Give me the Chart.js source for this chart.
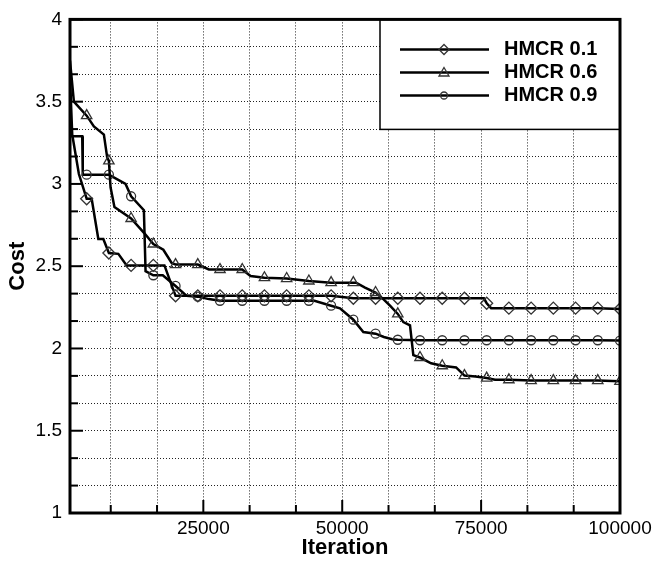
<!DOCTYPE html>
<html>
<head>
  <meta charset="utf-8">
  <title>Cost vs Iteration</title>
  <script src="https://cdn.jsdelivr.net/npm/chart.js@4.4.0/dist/chart.umd.min.js"></script>
  <style>
    body { margin: 0; background: #fff; }
  </style>
</head>
<body>
  <canvas id="costChart" width="657" height="562"></canvas>

  <script>
    // values
    const seriesLabels = ['HMCR 0.1', 'HMCR 0.6', 'HMCR 0.9'];
    const markerStyles = ['rectRot', 'triangle', 'circle'];

    const hmcr01Iter = [1000, 1400, 2600, 4000, 4900, 6100, 7000, 8000, 9700, 11200, 12000, 16000, 18000, 20000,
      24000, 28000, 32000, 36000, 40000, 44000, 48000, 52000, 56000, 60000, 64000, 68000, 72000, 75500, 76000,
      76800, 80000, 84000, 88000, 92000, 96000, 100000];
    const hmcr01Cost = [3.65, 3.30, 3.06, 2.91, 2.91, 2.665, 2.665, 2.58, 2.575, 2.505, 2.505, 2.505, 2.505, 2.32,
      2.32, 2.32, 2.32, 2.32, 2.32, 2.32, 2.32, 2.305, 2.305, 2.305, 2.305, 2.305, 2.305, 2.305, 2.275,
      2.245, 2.245, 2.245, 2.245, 2.245, 2.245, 2.24];

    const hmcr06Iter = [1000, 1700, 4000, 5300, 7100, 7700, 8000, 8300, 9000, 12000, 14400, 16000, 17800, 19300,
      20000, 24000, 26000, 28000, 32000, 33500, 36000, 40000, 44000, 48000, 52000, 52500, 54100, 56000, 57400,
      58600, 60000, 61000, 62200, 62800, 64000, 66000, 68000, 70500, 72000, 74000, 76000, 77500, 80000, 84000,
      88000, 92000, 96000, 100000];
    const hmcr06Cost = [3.75, 3.50, 3.415, 3.35, 3.30, 3.16, 3.14, 2.98, 2.86, 2.79, 2.70, 2.635, 2.60, 2.52,
      2.51, 2.51, 2.48, 2.48, 2.48, 2.44, 2.43, 2.425, 2.41, 2.40, 2.40, 2.40, 2.37, 2.34, 2.30,
      2.26, 2.21, 2.16, 2.14, 1.96, 1.945, 1.91, 1.895, 1.885, 1.835, 1.83, 1.82, 1.81, 1.81, 1.805,
      1.805, 1.805, 1.805, 1.80];

    const hmcr09Iter = [1000, 1200, 3200, 3300, 4000, 8000, 8300, 11000, 12000, 14300, 14600, 16000, 17700, 20000,
      22000, 24000, 26000, 28000, 32000, 36000, 40000, 44000, 45000, 48000, 49600, 52000, 53800, 56000, 57500,
      59000, 60000, 64000, 68000, 72000, 76000, 80000, 84000, 88000, 92000, 96000, 100000];
    const hmcr09Cost = [3.55, 3.29, 3.29, 3.056, 3.056, 3.056, 3.05, 3.00, 2.925, 2.84, 2.47, 2.445, 2.445, 2.38,
      2.32, 2.315, 2.30, 2.29, 2.29, 2.29, 2.29, 2.29, 2.29, 2.26, 2.244, 2.175, 2.10, 2.09, 2.07,
      2.056, 2.053, 2.05, 2.05, 2.05, 2.05, 2.05, 2.05, 2.05, 2.05, 2.05, 2.048];

    const xTickLabels = [25000, 50000, 75000, 100000];
    const yTickLabels = [1, 1.5, 2, 2.5, 3, 3.5, 4];
    const xMin = 1000, xMax = 100000, yMin = 1, yMax = 4;
    const markerEvery = 4000;   // a symbol is drawn every 4000 iterations
    const minorPerMajor = 3;

    function toPoints(xs, ys) {
      return xs.map((x, i) => ({ x: x, y: ys[i] }));
    }

    function gridValues(labels, start) {
      // majors plus minor divisions between them
      var step = labels[1] - labels[0];
      var out = [];
      var n = Math.round((labels[labels.length - 1] - start) / step * minorPerMajor);
      for (var i = 0; i <= n; i++) {
        var v = start + i * step / minorPerMajor;
        if (v > 0) out.push(v);
      }
      return out;
    }

    function isMajor(v, labels) {
      return labels.some(l => Math.abs(l - v) < 1e-6 * Math.max(1, l));
    }

    const xGrid = gridValues(xTickLabels, 0);
    const yGrid = gridValues(yTickLabels, yTickLabels[0]);

    const font = "'Liberation Sans', Arial, sans-serif";

    function makeDataset(i, xs, ys, radius) {
      return {
        label: seriesLabels[i],
        data: toPoints(xs, ys),
        borderColor: '#000',
        borderWidth: 2.5,
        backgroundColor: 'rgba(0,0,0,0)',
        pointStyle: markerStyles[i],
        pointBorderColor: '#333',
        pointBorderWidth: 1.3,
        pointBackgroundColor: 'rgba(0,0,0,0)',
        pointRadius: ctx => (ctx.raw && ctx.raw.x % markerEvery === 0 ? radius : 0),
        pointHoverRadius: 0,
        tension: 0,
        fill: false
      };
    }

    // inward tick marks, frame and the boxed legend
    const decorPlugin = {
      id: 'decor',
      afterDatasetsDraw(chart) {
        const ctx = chart.ctx;
        const a = chart.chartArea;
        const xs = chart.scales.x, ys = chart.scales.y;
        ctx.save();
        ctx.strokeStyle = '#000';
        ctx.lineWidth = 2;
        xGrid.forEach(v => {
          var px = xs.getPixelForValue(v);
          var len = isMajor(v, xTickLabels) ? 13 : 8;
          ctx.beginPath();
          ctx.moveTo(px, a.bottom);
          ctx.lineTo(px, a.bottom - len);
          ctx.stroke();
        });
        yGrid.forEach(v => {
          var py = ys.getPixelForValue(v);
          var len = isMajor(v, yTickLabels) ? 13 : 8;
          ctx.beginPath();
          ctx.moveTo(a.left, py);
          ctx.lineTo(a.left + len, py);
          ctx.stroke();
        });

        // legend box
        var bx = 380, by = a.top, bw = a.right - 380, bh = 110;
        ctx.fillStyle = '#fff';
        ctx.fillRect(bx, by, bw, bh);
        ctx.lineWidth = 1.5;
        ctx.strokeRect(bx, by, bw, bh);
        var rows = [49.5, 72.5, 95.5];
        ctx.font = 'bold 20px ' + font;
        ctx.textBaseline = 'middle';
        ctx.textAlign = 'left';
        seriesLabels.forEach((lab, i) => {
          var y = rows[i];
          ctx.strokeStyle = '#000';
          ctx.lineWidth = 2.5;
          ctx.beginPath();
          ctx.moveTo(400, y);
          ctx.lineTo(489, y);
          ctx.stroke();
          ctx.strokeStyle = '#333';
          ctx.lineWidth = 1.3;
          ctx.beginPath();
          if (markerStyles[i] === 'rectRot') {
            ctx.moveTo(444, y - 5); ctx.lineTo(449, y); ctx.lineTo(444, y + 5); ctx.lineTo(439, y); ctx.closePath();
          } else if (markerStyles[i] === 'triangle') {
            ctx.moveTo(444, y - 5); ctx.lineTo(449, y + 3.5); ctx.lineTo(439, y + 3.5); ctx.closePath();
          } else {
            ctx.arc(444, y, 3.5, 0, Math.PI * 2);
          }
          ctx.stroke();
          ctx.fillStyle = '#000';
          ctx.fillText(lab, 504, y);
        });

        // frame
        ctx.strokeStyle = '#000';
        ctx.lineWidth = 3;
        ctx.strokeRect(a.left, a.top, a.right - a.left, a.bottom - a.top);
        ctx.restore();
      }
    };

    const ctx = document.getElementById('costChart').getContext('2d');
    const costChart = new Chart(ctx, {
      type: 'line',
      data: {
        datasets: [
          makeDataset(0, hmcr01Iter, hmcr01Cost, 6),
          makeDataset(1, hmcr06Iter, hmcr06Cost, 6),
          makeDataset(2, hmcr09Iter, hmcr09Cost, 4.5)
        ]
      },
      options: {
        responsive: false,
        animation: false,
        events: [],
        layout: { padding: { top: 14, right: 37, left: 0, bottom: 0 } },
        plugins: {
          legend: { display: false },
          tooltip: { enabled: false }
        },
        scales: {
          x: {
            type: 'linear',
            min: xMin,
            max: xMax,
            afterBuildTicks: scale => { scale.ticks = xGrid.map(v => ({ value: v })); },
            afterFit: scale => { scale.height = 49; },
            ticks: {
              autoSkip: false,
              maxRotation: 0,
              padding: 4,
              color: '#000',
              font: { family: font, size: 19 },
              callback: v => (isMajor(v, xTickLabels) ? String(Math.round(v)) : '')
            },
            grid: { color: '#222', lineWidth: 1, drawTicks: false },
            border: { display: false, dash: [1, 2] },
            title: {
              display: true,
              text: 'Iteration',
              color: '#000',
              font: { family: font, size: 22, weight: 'bold' },
              padding: { top: 0, bottom: 1 }
            }
          },
          y: {
            min: yMin,
            max: yMax,
            afterBuildTicks: scale => { scale.ticks = yGrid.map(v => ({ value: v })); },
            afterFit: scale => { scale.width = 70; },
            ticks: {
              autoSkip: false,
              padding: 8,
              color: '#000',
              font: { family: font, size: 19 },
              callback: v => {
                if (!isMajor(v, yTickLabels)) return '';
                return String(yTickLabels.find(l => Math.abs(l - v) < 1e-6));
              }
            },
            grid: { color: '#222', lineWidth: 1, drawTicks: false },
            border: { display: false, dash: [1, 2] },
            title: {
              display: true,
              text: 'Cost',
              color: '#000',
              font: { family: font, size: 22, weight: 'bold' },
              padding: { top: 5, bottom: 0 }
            }
          }
        }
      },
      plugins: [decorPlugin]
    });
  </script>
</body>
</html>
